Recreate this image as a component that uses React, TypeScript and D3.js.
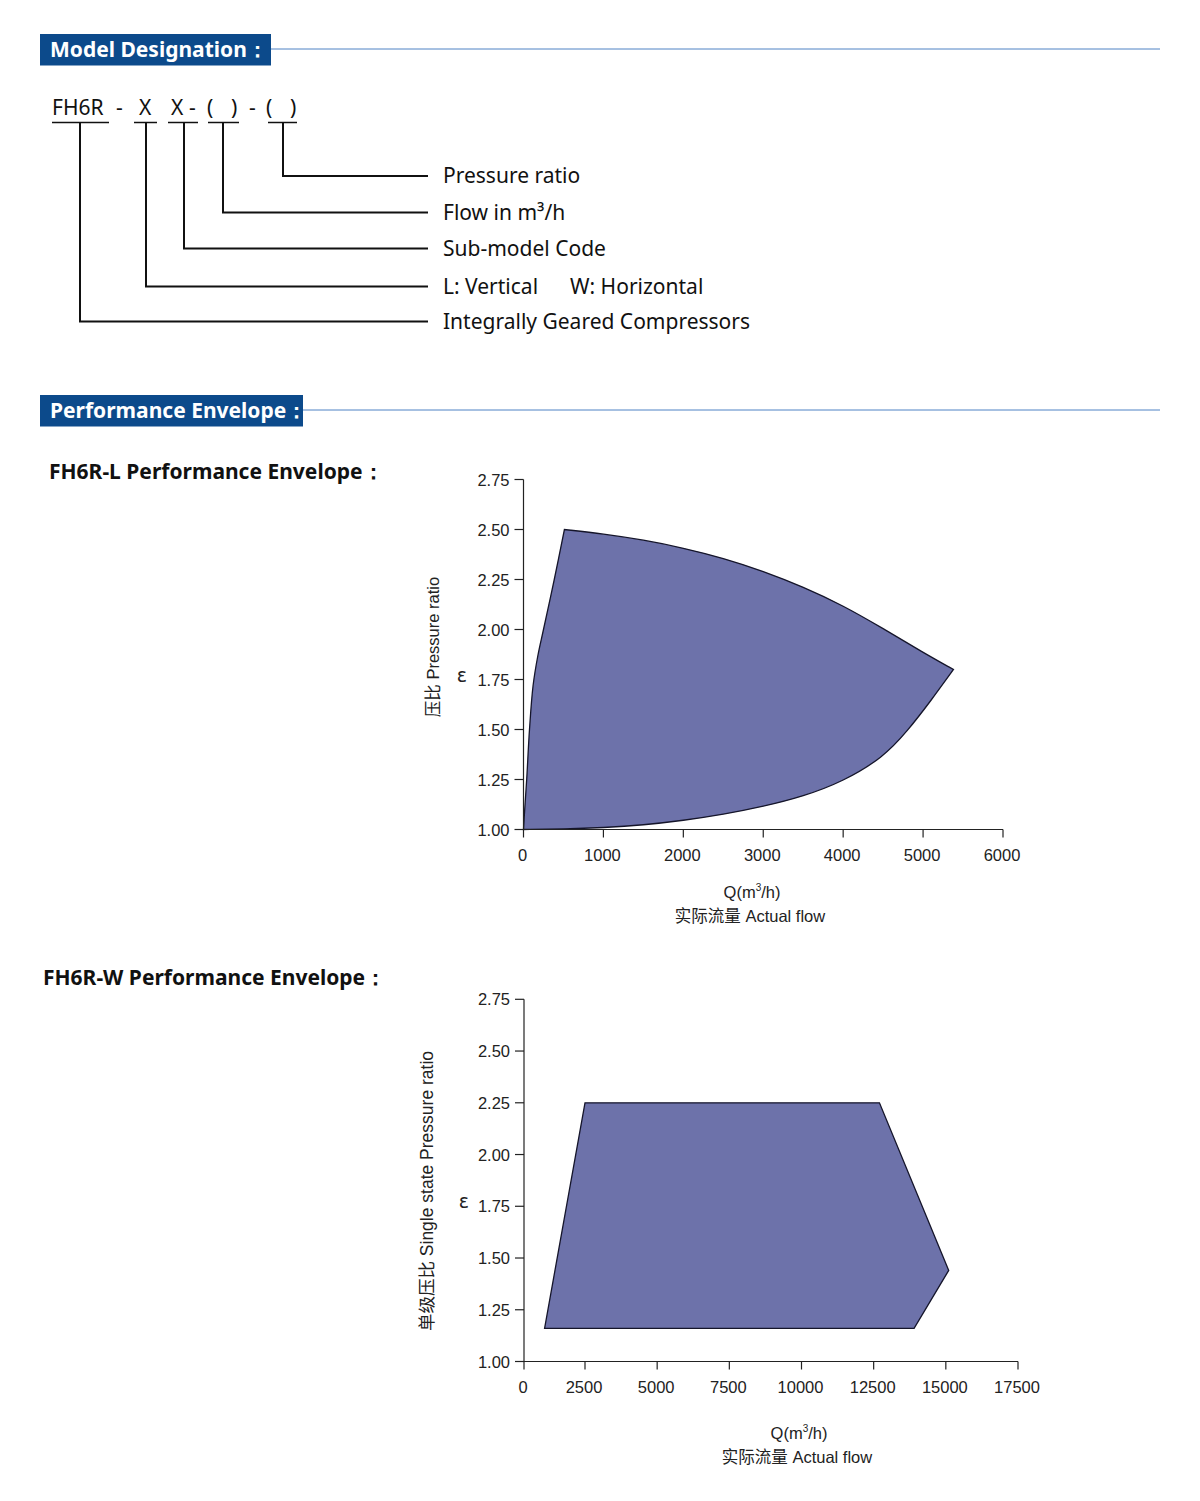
import React from "react";
import * as d3 from "d3";

// ---------- data ----------
const designationParts = ["FH6R", "-", "X", "X", "-", "(", ")", "-", "(", ")"];
const designationLabels = [
  "Pressure ratio",
  "Flow in m³/h",
  "Sub-model Code",
  "L: Vertical",
  "Integrally Geared Compressors",
];

const yTicks = [1.0, 1.25, 1.5, 1.75, 2.0, 2.25, 2.5, 2.75];
const xTicksL = [0, 1000, 2000, 3000, 4000, 5000, 6000];
const xTicksW = [0, 2500, 5000, 7500, 10000, 12500, 15000, 17500];

// FH6R-L envelope (three boundary curves)
const lLeftQ = [0, 15, 40, 75, 120, 180, 250, 385, 512];
const lLeftE = [1.0, 1.1, 1.25, 1.5, 1.72, 1.87, 2.0, 2.25, 2.5];
const lTopQ = [512, 1000, 1500, 2000, 2500, 3000, 3500, 4000, 4500, 5000, 5380];
const lTopE = [2.5, 2.478, 2.448, 2.408, 2.357, 2.292, 2.213, 2.12, 2.005, 1.885, 1.8];
const lBotQ = [5380, 5100, 4800, 4500, 4000, 3500, 3000, 2500, 2000, 1500, 1000, 500, 0];
const lBotE = [1.8, 1.645, 1.49, 1.36, 1.24, 1.165, 1.115, 1.075, 1.045, 1.022, 1.009, 1.002, 1.0];

// FH6R-W envelope (polygon)
const wQ = [1100, 2500, 12700, 15100, 13900];
const wE = [1.16, 2.25, 2.25, 1.44, 1.16];

// ---------- styles ----------
const BLUE = "#0c4a8b";
const LINEBLUE = "#4f82c4";
const FILL = "#6d72aa";
const UI_FONT = "'Noto Sans', 'Open Sans', sans-serif";
const AX_FONT = "'Liberation Sans', Arial, sans-serif";
const CJK_FONT = "'Liberation Sans', 'Noto Sans CJK SC', sans-serif";

function Header({ y, w, text }: { y: number; w: number; text: string }) {
  return (
    <g>
      <rect x={40} y={y} width={w} height={31.5} fill={BLUE} />
      <text x={50} y={y + 23} fill="#fff" fontFamily={UI_FONT} fontWeight={700} fontSize={21}>
        {text}
      </text>
      <line x1={40 + w} x2={1160} y1={y + 15} y2={y + 15} stroke={LINEBLUE} strokeWidth={1} />
    </g>
  );
}

function Axes({
  x, y, xTicks, left, xLabelX, xLabelY, yLabel, yLabelX, yLabelY, yLabelSize, epsX,
}: any) {
  const [x0, x1] = [left, x(xTicks[xTicks.length - 1])];
  const y0 = y(1);
  const yTop = y(2.75);
  return (
    <g fontFamily={AX_FONT} fill="#222" fontSize={16.5}>
      <line x1={x0} x2={x0} y1={yTop} y2={y0} stroke="#222" strokeWidth={1.2} />
      <line x1={x0} x2={x1} y1={y0} y2={y0} stroke="#222" strokeWidth={1.2} />
      {yTicks.map((t) => (
        <g key={"y" + t}>
          <line x1={x0 - 9} x2={x0} y1={y(t)} y2={y(t)} stroke="#222" strokeWidth={1.2} />
          <text x={x0 - 14} y={y(t) + 6} textAnchor="end">{t.toFixed(2)}</text>
        </g>
      ))}
      {xTicks.map((t: number) => {
        const px = Math.max(x(t), left);
        return (
          <g key={"x" + t}>
            <line x1={px} x2={px} y1={y0} y2={y0 + 8} stroke="#222" strokeWidth={1.2} />
            <text x={px - 1} y={y0 + 31} textAnchor="middle">{t}</text>
          </g>
        );
      })}
      <text x={xLabelX} y={xLabelY} textAnchor="middle">
        Q(m<tspan fontSize={10} dy={-7}>3</tspan><tspan dy={7}>/h)</tspan>
      </text>
      <text x={xLabelX - 2} y={xLabelY + 24} textAnchor="middle" fontFamily={CJK_FONT}>
        实际流量 Actual flow
      </text>
      <text
        transform={`translate(${yLabelX},${yLabelY}) rotate(-90)`}
        textAnchor="middle"
        dominantBaseline="central"
        fontFamily={CJK_FONT}
        fontSize={yLabelSize}
      >
        {yLabel}
      </text>
      <text x={epsX} y={y(1.75) + 2} textAnchor="middle" fontSize={19} fontFamily="'DejaVu Sans', sans-serif">ε</text>
    </g>
  );
}

export default function App() {
  // designation diagram geometry
  const underlines = [
    [52, 109], [134, 157], [168, 198], [208, 239], [268, 297],
  ];
  const stems = [283, 223, 184, 146, 80];
  const rowsY = [176, 212.5, 248.5, 286.5, 321.5];

  // chart L scales
  const xL = d3.scaleLinear().domain([0, 6000]).range([523.5, 1003]);
  const yL = d3.scaleLinear().domain([1, 2.75]).range([829.5, 479.5]);
  const mk = (curve: any) =>
    d3
      .line<[number, number]>()
      .x((d) => xL(d[0]))
      .y((d) => yL(d[1]))
      .curve(curve);
  const segLeft = mk(d3.curveCatmullRom.alpha(0.5));
  const seg = mk(d3.curveBasis);
  const zip = (q: number[], e: number[]) => q.map((v, i) => [v, e[i]] as [number, number]);
  const pL =
    (segLeft(zip(lLeftQ, lLeftE)) || "") +
    (seg(zip(lTopQ, lTopE)) || "").replace(/^M/, "L") +
    (seg(zip(lBotQ, lBotE)) || "").replace(/^M/, "L") +
    "Z";

  // chart W scales
  const xW = d3.scaleLinear().domain([2500, 17500]).range([585, 1018]);
  const yW = d3.scaleLinear().domain([1, 2.75]).range([1361.5, 999.3]);
  const poly = d3
    .line<[number, number]>()
    .x((d) => xW(d[0]))
    .y((d) => yW(d[1]))
    .curve(d3.curveLinearClosed);
  const pW = poly(zip(wQ, wE)) || "";

  // designation text positions
  const partX = [52, 116, 139, 171, 189, 207, 231, 249, 266, 290];

  return (
    <svg
      width={1200}
      height={1501}
      style={{ position: "absolute", left: 0, top: 0, background: "#fff" }}
    >
      <rect width={1200} height={1501} fill="#fff" />
      <Header y={34} w={231} text="Model Designation：" />

      <g fontFamily={UI_FONT} fontSize={21} fill="#111">
        {designationParts.map((p, i) => (
          <text key={i} x={partX[i]} y={115}>{p}</text>
        ))}
        {underlines.map(([a, b], i) => (
          <line key={"u" + i} x1={a} x2={b} y1={122.5} y2={122.5} stroke="#111" strokeWidth={1.5} />
        ))}
        {stems.map((sx, i) => (
          <path
            key={"s" + i}
            d={`M${sx},122.5V${rowsY[i]}H428`}
            fill="none"
            stroke="#111"
            strokeWidth={2}
          />
        ))}
        {designationLabels.map((t, i) => (
          <text key={"l" + i} x={443} y={rowsY[i] + 7}>{t}</text>
        ))}
        <text x={570} y={rowsY[3] + 7}>W: Horizontal</text>
      </g>

      <Header y={395} w={263} text="Performance Envelope：" />

      <text x={49} y={479} fontFamily={UI_FONT} fontWeight={700} fontSize={21} fill="#111">
        FH6R-L Performance Envelope：
      </text>
      <text x={43} y={985} fontFamily={UI_FONT} fontWeight={700} fontSize={21} fill="#111">
        FH6R-W Performance Envelope：
      </text>

      <path d={pL} fill={FILL} stroke="#15152a" strokeWidth={1.3} />
      <Axes
        x={xL}
        y={yL}
        xTicks={xTicksL}
        left={523.5}
        xLabelX={752}
        xLabelY={898}
        yLabel="压比 Pressure ratio"
        yLabelX={433}
        yLabelY={647}
        yLabelSize={16.5}
        epsX={462}
      />

      <path d={pW} fill={FILL} stroke="#15152a" strokeWidth={1.3} />
      <Axes
        x={xW}
        y={yW}
        xTicks={xTicksW}
        left={524}
        xLabelX={799}
        xLabelY={1439}
        yLabel="单级压比 Single state Pressure ratio"
        yLabelX={427}
        yLabelY={1191}
        yLabelSize={17.5}
        epsX={464}
      />
    </svg>
  );
}
